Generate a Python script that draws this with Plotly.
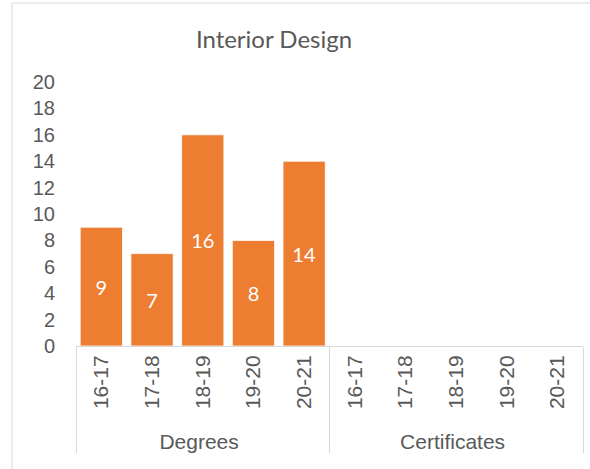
import plotly.graph_objects as go

groups = ["Degrees"] * 5 + ["Certificates"] * 5
years = ["16-17", "17-18", "18-19", "19-20", "20-21"] * 2
values = [9, 7, 16, 8, 14, None, None, None, None, None]
y_ticks = list(range(0, 21, 2))

W, H = 590, 469
ml, mr, mt, mb = 76, 7, 82, 123
pw, ph = W - ml - mr, H - mt - mb

AX_FONT = dict(family="Arial", size=20, color="#595959")
X_FONT = dict(family="Arial", size=21, color="#595959")

fig = go.Figure(go.Bar(
    x=[groups, years], y=values,
    marker=dict(color="#ED7D31", line=dict(color="#FFFFFF", width=0.8)),
    text=[str(v) if v is not None else "" for v in values],
    textposition="inside", insidetextanchor="middle",
    textfont=dict(family="Lato", size=20, color="white"),
    hoverinfo="skip",
))

fig.update_layout(
    width=W, height=H,
    margin=dict(l=ml, r=mr, t=mt, b=mb, autoexpand=False),
    paper_bgcolor="white", plot_bgcolor="white",
    bargap=0.166, showlegend=False,
    title=dict(text="Interior Design", x=274 / W, xref="container", xanchor="center",
               y=1 - 40 / H, yref="container", yanchor="middle",
               font=dict(family="Lato", size=24, color="#595959")),
    font=AX_FONT,
)
fig.update_yaxes(range=[0, 20], tickvals=y_ticks, showgrid=False, zeroline=False,
                 showline=False, ticks="", ticklabelstandoff=20, tickfont=AX_FONT)
fig.update_xaxes(showline=True, linecolor="#D9D9D9", linewidth=1, tickangle=-90,
                 showdividers=True, dividercolor="#D9D9D9", dividerwidth=1,
                 ticks="outside", ticklen=7, tickcolor="rgba(0,0,0,0)",
                 showgrid=False, tickfont=X_FONT)

# chart frame (extends beyond the visible window on right/bottom)
fig.add_shape(type="rect", xref="paper", yref="paper",
              x0=(12 - ml) / pw, x1=(W + 20 - ml) / pw,
              y0=-(H + 20 - mt - ph) / ph, y1=(H - mb - 3) / ph,
              line=dict(color="#D9D9D9", width=1), layer="below")

fig.write_html("out.html", config={"displayModeBar": False},
               post_script="document.body.style.margin='0';document.body.style.overflow='hidden';")
